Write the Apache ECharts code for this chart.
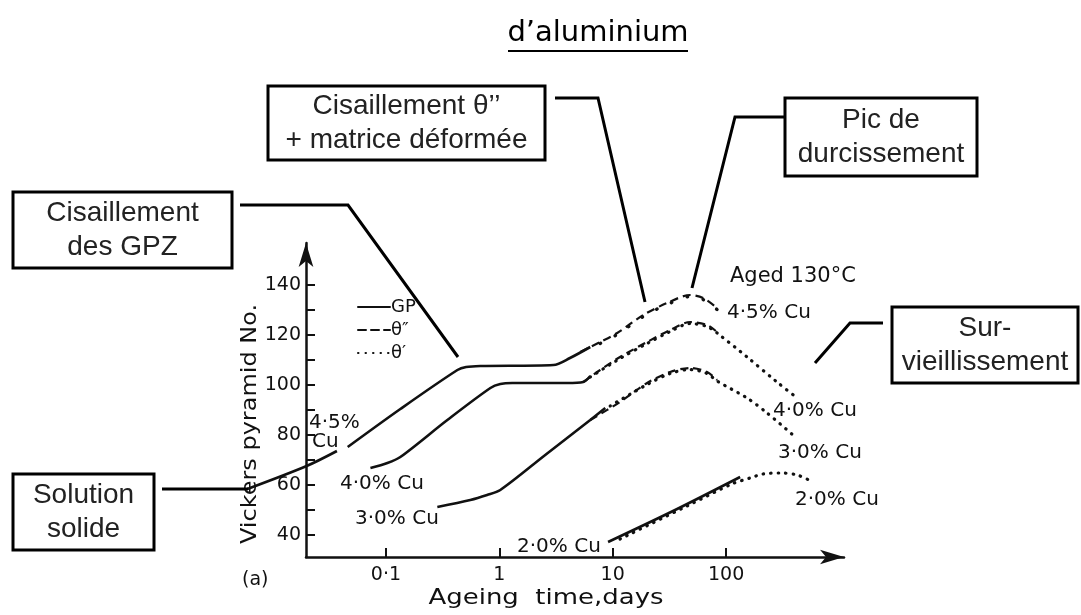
<!DOCTYPE html>
<html>
<head>
<meta charset="utf-8">
<title>Durcissement des alliages d'aluminium</title>
<script src="https://cdn.jsdelivr.net/npm/echarts@6/dist/echarts.min.js"></script>
<style>
html, body { margin: 0; padding: 0; background: #fff; }
#chart { width: 1081px; height: 615px; }
</style>
</head>
<body>
<div id="chart"></div>
<script>
// [ageing time in days, Vickers hardness]
const cu45GPa = [[0.006, 58.4], [0.02, 67.6], [0.037, 73.6]];
const cu45GPb = [[0.046, 75.2], [0.134, 90.4], [0.427, 106], [0.51, 107.2], [0.68, 107.6], [3.0, 108], [4.2, 110.8], [6.34, 115.2]];
const cu45T2 = [[5.17, 113.2], [7.76, 117.2], [10.96, 120.8], [18.6, 128], [30.2, 132.8], [48.2, 136], [62.7, 134.8], [83.3, 130.8]];
const cu45T1 = [[7.76, 116.6], [10.96, 120.2], [18.6, 127.4], [30.2, 132.2], [48.2, 135.4], [62.7, 134.2], [83.3, 130.2]];

const cu40GP = [[0.073, 66.8], [0.103, 68.8], [0.134, 71.2], [0.348, 86], [0.834, 98.8], [1.02, 100.4], [1.3, 100.8], [3.97, 100.8], [5.5, 101.2], [6.34, 103.6]];
const cu40T2 = [[5.5, 101.2], [7.76, 106], [11.6, 111.2], [20.1, 117.2], [32.1, 122], [48.2, 125.2], [68, 124], [83.3, 121.2]];
const cu40T1 = [[6.34, 103.2], [11.6, 110.6], [20.1, 116.6], [32.1, 121.4], [48.2, 124.6], [68, 123.4], [83.3, 120.8], [153, 111.2], [281, 101.2], [423, 94.8]];

const cu30GP = [[0.284, 51.2], [0.555, 54], [0.78, 56], [1.02, 58], [2.54, 72], [6.34, 86], [8.6, 90.8]];
const cu30T2 = [[6.34, 86], [11.6, 93.2], [20.1, 100.8], [32.1, 105.2], [48.2, 106.8], [68, 105.2], [83.3, 102]];
const cu30T1 = [[9.5, 91.6], [20.1, 100.2], [32.1, 104.6], [48.2, 106.2], [68, 104.6], [83.3, 101.6], [153, 94.8], [230, 88.8], [389, 80]];

const cu20GP = [[9.1, 37.2], [35.5, 50], [133, 63.2]];
const cu20T1 = [[11.6, 38.4], [45.3, 51.6], [115, 60.6], [163, 62.8], [212, 64.4], [299, 64.8], [423, 64], [584, 61.2]];

const legendNames = ['GP', 'θ″', 'θ′'];
const xTickDays = [0.1, 1, 10, 100];
const xTickLabels = ['0·1', '1', '10', '100'];
const yTicks = [40, 50, 60, 70, 80, 90, 100, 110, 120, 130, 140];
const yLabels = [40, 60, 80, 100, 120, 140];

const INK = '#111';
const FIG_FONT = 'DejaVu Sans';
const BOX_FONT = '28px "Liberation Sans", Arial, sans-serif';

const styleGP = { type: 'solid', width: 2.6 };
const styleT2 = { type: [8, 5], width: 2.2 };
const styleT1 = { type: [0.5, 7], width: 3.2, cap: 'round' };
const styleT1sparse = { type: [0.5, 16], width: 3.4, cap: 'round' };

// log10 of the time, so the axis reads in decades
const X_MIN = -1.705, X_MAX = 3.04;
const X_MIN_WIDE = -2.2865;   // same scale, starting left of the y axis
const Y_MIN = 31.2, Y_MAX = 156.8;

function toLog(pts) {
  return pts.map(p => [Math.log10(p[0]), p[1]]);
}

function curve(name, pts, style, axis) {
  return {
    name: name,
    type: 'line',
    data: toLog(pts),
    xAxisIndex: axis || 0,
    yAxisIndex: axis || 0,
    symbol: 'none',
    smooth: 0.3,
    clip: false,
    silent: true,
    lineStyle: Object.assign({ color: INK }, style)
  };
}

function txt(text, x, y, size, extra) {
  return Object.assign({
    type: 'text', x: x, y: y, silent: true,
    style: { text: text, font: size + 'px "' + FIG_FONT + '"', fill: INK, align: 'left', verticalAlign: 'middle' }
  }, extra || {});
}

function box(x, y, w, h, lines) {
  const els = [{
    type: 'rect', silent: true, z: 10,
    shape: { x: x, y: y, width: w, height: h },
    style: { fill: '#fff', stroke: '#000', lineWidth: 3 }
  }];
  const lh = 34;
  const y0 = y + h / 2 - (lines.length - 1) * lh / 2;
  lines.forEach((s, i) => {
    els.push({
      type: 'text', silent: true, z: 11, x: x + w / 2, y: y0 + i * lh,
      style: { text: s, font: BOX_FONT, fill: '#222', align: 'center', verticalAlign: 'middle' }
    });
  });
  return els;
}

function leader(points) {
  return { type: 'polyline', silent: true, z: 9, shape: { points: points }, style: { stroke: '#000', lineWidth: 3, fill: null } };
}

const xTickPos = xTickDays.map(d => Math.log10(d));

const chart = echarts.init(document.getElementById('chart'));

chart.setOption({
  animation: false,
  backgroundColor: '#fff',
  grid: [
    { left: 306, right: 237, top: 243, bottom: 58 },
    { left: 240, right: 237, top: 243, bottom: 58 }
  ],
  legend: {
    data: legendNames,
    orient: 'vertical',
    left: 352, top: 293,
    itemWidth: 32, itemHeight: 12, itemGap: 5,
    selectedMode: false,
    itemStyle: { opacity: 0 },
    lineStyle: { cap: 'round' },
    textStyle: { color: INK, fontFamily: FIG_FONT, fontSize: 18, lineHeight: 14, padding: [0, 0, 0, -4] }
  },
  xAxis: [{
    type: 'value',
    min: X_MIN, max: X_MAX,
    splitLine: { show: false },
    axisLine: { show: true, onZero: false, symbol: ['none', 'arrow'], symbolSize: [11, 24], lineStyle: { color: INK, width: 2.5 } },
    axisTick: { show: true, inside: true, length: 9, customValues: xTickPos, lineStyle: { color: INK, width: 2 } },
    axisLabel: {
      customValues: xTickPos, margin: 9, color: INK, fontFamily: FIG_FONT, fontSize: 19,
      formatter: v => {
        const i = xTickPos.findIndex(p => Math.abs(p - v) < 1e-6);
        return i < 0 ? '' : xTickLabels[i];
      }
    }
  }, {
    type: 'value', gridIndex: 1, show: false,
    min: X_MIN_WIDE, max: X_MAX
  }],
  yAxis: [{
    type: 'value',
    min: Y_MIN, max: Y_MAX,
    splitLine: { show: false },
    axisLine: { show: true, onZero: false, symbol: ['none', 'arrow'], symbolSize: [11, 24], lineStyle: { color: INK, width: 2.5 } },
    axisTick: { show: true, inside: true, length: 9, customValues: yTicks, lineStyle: { color: INK, width: 2 } },
    axisLabel: { customValues: yLabels, margin: 5, color: INK, fontFamily: FIG_FONT, fontSize: 19 }
  }, {
    type: 'value', gridIndex: 1, show: false,
    min: Y_MIN, max: Y_MAX
  }],
  // the legend takes its icon from the first series of each name
  series: [
    curve('GP', cu40GP, styleGP),
    curve('θ″', cu40T2, styleT2),
    curve('θ′', cu40T1, styleT1),
    curve('GP', cu45GPa, styleGP, 1),
    curve('GP', cu45GPb, styleGP),
    curve('θ″', cu45T2, styleT2),
    curve('θ′', cu45T1, styleT1sparse),
    curve('GP', cu30GP, styleGP),
    curve('θ″', cu30T2, styleT2),
    curve('θ′', cu30T1, styleT1),
    curve('GP', cu20GP, styleGP),
    curve('θ′', cu20T1, styleT1)
  ],
  graphic: {
    elements: [
      // title
      txt('d’aluminium', 598, 33, 29, { style: { text: 'd’aluminium', font: '29px "' + FIG_FONT + '"', fill: '#000', align: 'center', verticalAlign: 'middle' } }),
      { type: 'line', silent: true, shape: { x1: 508, y1: 51, x2: 688, y2: 51 }, style: { stroke: '#000', lineWidth: 2 } },

      // axis names
      txt('Vickers pyramid No.', 250, 424, 22, { rotation: Math.PI / 2, scaleX: 1.09, style: { text: 'Vickers pyramid No.', font: '22px "' + FIG_FONT + '"', fill: INK, align: 'center', verticalAlign: 'middle' } }),
      txt('Ageing  time,days', 546, 598, 22, { scaleX: 1.18, style: { text: 'Ageing  time,days', font: '22px "' + FIG_FONT + '"', fill: INK, align: 'center', verticalAlign: 'middle' } }),
      txt('(a)', 242, 580, 19),
      txt('Aged 130°C', 730, 277, 21),

      // curve labels
      txt('4·5%', 309, 423, 20),
      txt('Cu', 312, 442, 20),
      txt('4·0% Cu', 340, 484, 20),
      txt('3·0% Cu', 355, 519, 20),
      txt('2·0% Cu', 517, 547, 20),
      txt('4·5% Cu', 727, 313, 20),
      txt('4·0% Cu', 773, 411, 20),
      txt('3·0% Cu', 778, 453, 20),
      txt('2·0% Cu', 795, 500, 20),

      // leader lines
      leader([[240, 205], [348, 205], [458, 357]]),
      leader([[555, 98], [598, 98], [645, 302]]),
      leader([[786, 117], [735, 117], [692, 288]]),
      leader([[883, 323], [850, 323], [815, 363]]),
      leader([[162, 489], [248, 489]]),

      // annotation boxes
      ...box(13, 192, 219, 76, ['Cisaillement', 'des GPZ']),
      ...box(268, 86, 277, 74, ['Cisaillement θ’’', '+ matrice déformée']),
      ...box(785, 98, 192, 78, ['Pic de', 'durcissement']),
      ...box(892, 307, 186, 76, ['Sur-', 'vieillissement']),
      ...box(13, 474, 141, 76, ['Solution', 'solide'])
    ]
  }
});
</script>
</body>
</html>
